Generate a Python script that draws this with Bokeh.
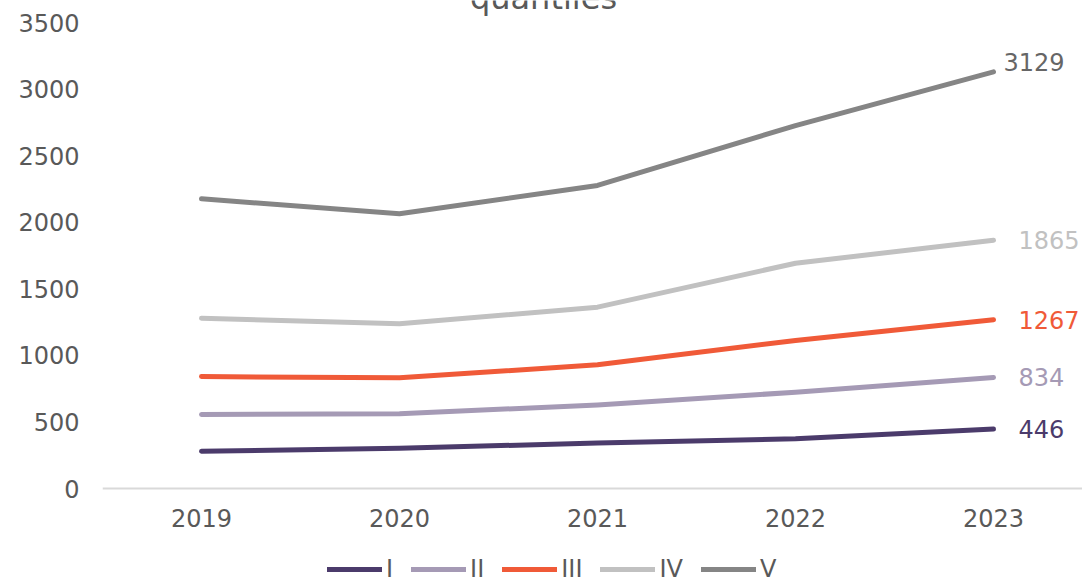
from bokeh.plotting import figure
from bokeh.models import Range1d, FixedTicker, Legend, LegendItem, Label, ColumnDataSource
from bokeh.embed import file_html
from bokeh.resources import INLINE
from bokeh.core.properties import value

# Series by quantile group, one value per year
years = [2019, 2020, 2021, 2022, 2023]
q_I = [280, 303, 341, 373, 446]
q_II = [556, 561, 628, 723, 834]
q_III = [841, 831, 929, 1112, 1267]
q_IV = [1279, 1237, 1362, 1692, 1865]
q_V = [2176, 2063, 2276, 2726, 3129]
series_names = ["I", "II", "III", "IV", "V"]
y_ticks = [0, 500, 1000, 1500, 2000, 2500, 3000, 3500]

series = [q_I, q_II, q_III, q_IV, q_V]
line_colors = ["#4b3b6b", "#a59ab5", "#f05a38", "#c1c1c1", "#858585"]
label_colors = ["#4b3b6b", "#a59ab5", "#f05a38", "#c1c1c1", "#666666"]
FONT = "DejaVu Sans"
TEXT_GREY = "#595959"

# 466 px of plot height hold 0..3500; the frame also spans the title strip
# above and the axis/legend strip below.
PX_PER_UNIT = 466 / 3500
Y_TOP = 3500 + 22 / PX_PER_UNIT
Y_BOTTOM = -91 / PX_PER_UNIT

p = figure(width=1082, height=579, output_backend="svg", toolbar_location=None,
           x_range=Range1d(2018.5, 2018.5 + 980 / 198), y_range=Range1d(Y_BOTTOM, Y_TOP),
           min_border_left=102, min_border_right=0, min_border_top=0, min_border_bottom=0,
           outline_line_color=None)
p.xgrid.visible = False
p.ygrid.visible = False

p.xaxis.fixed_location = 0
p.xaxis.ticker = FixedTicker(ticks=years)
p.xaxis.axis_line_color = "#d9d9d9"
p.xaxis.axis_line_width = 2
p.xaxis.major_tick_line_color = None
p.xaxis.minor_tick_line_color = None
p.xaxis.major_label_standoff = 14
p.xaxis.major_label_text_font = FONT
p.xaxis.major_label_text_font_size = "24px"
p.xaxis.major_label_text_color = TEXT_GREY

p.yaxis.ticker = FixedTicker(ticks=y_ticks)
p.yaxis.axis_line_color = None
p.yaxis.major_tick_line_color = None
p.yaxis.minor_tick_line_color = None
p.yaxis.major_label_standoff = 17
p.yaxis.major_label_text_font = FONT
p.yaxis.major_label_text_font_size = "24px"
p.yaxis.major_label_text_color = TEXT_GREY

items = []
for name, vals, col in zip(series_names, series, line_colors):
    r = p.line(years, vals, line_color=col, line_width=5, line_cap="round", line_join="round")
    items.append(LegendItem(label=name, renderers=[r]))

# End-of-line value labels
end_src = ColumnDataSource(dict(
    x=[years[-1]] * len(series),
    y=[s[-1] for s in series],
    text=[str(s[-1]) for s in series],
    color=label_colors,
    dx=[25, 25, 25, 25, 10],
    dy=[0, 0, 0, 0, -10],
))
p.text(x="x", y="y", text="text", source=end_src, text_color="color",
       x_offset="dx", y_offset="dy", text_baseline="middle", text_align="left",
       text_font=value(FONT), text_font_size="24px")

# Chart title, partly running off the top edge
title = Label(x=2018.5 + (543 - 102) / 198, y=Y_TOP + 3 / PX_PER_UNIT, text="quantiles",
              text_align="center", text_baseline="alphabetic",
              text_font=FONT, text_font_size="32px", text_color=TEXT_GREY)
p.add_layout(title)

legend = Legend(items=items, orientation="horizontal", location=(225, -4),
                glyph_width=55, glyph_height=20, label_standoff=4, spacing=18,
                label_width=1, padding=0, margin=0, border_line_color=None,
                background_fill_alpha=0,
                label_text_font=FONT, label_text_font_size="24px",
                label_text_color=TEXT_GREY)
p.add_layout(legend, "center")

open("out.html", "w").write(file_html(p, INLINE))
